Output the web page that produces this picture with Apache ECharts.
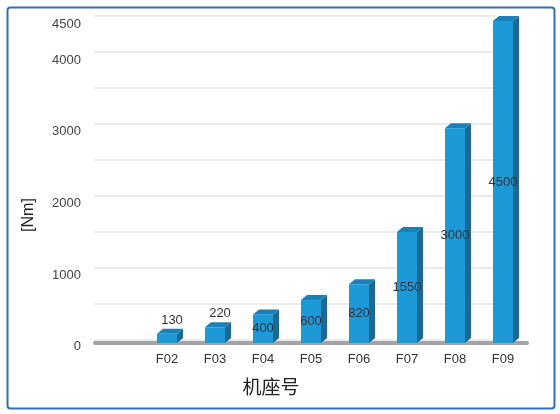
<!DOCTYPE html>
<html>
<head>
<meta charset="utf-8">
<script src="https://cdn.jsdelivr.net/npm/echarts@6/dist/echarts.min.js"></script>
<style>
  html, body { margin: 0; padding: 0; background: #fff; }
  #chart { width: 560px; height: 414px; }
</style>
</head>
<body>
<div id="chart"></div>
<script>
// 机座号 / 扭矩
const categories = ['F02', 'F03', 'F04', 'F05', 'F06', 'F07', 'F08', 'F09']
const torque = [130, 220, 400, 600, 820, 1550, 3000, 4500]
const yTicks = [0, 1000, 2000, 3000, 4000, 4500]

// 前面留一个空位
const axisCats = [''].concat(categories)
const axisVals = [null].concat(torque)

const frontColor = '#1b9ad7'
const sideColor = '#176a98'
const topColor = '#1b7fb9'
const font = '"Liberation Sans", Arial, sans-serif'

const chart = echarts.init(document.getElementById('chart'))

const render3d = (params, api) => {
  const v = api.value(1)
  if (v == null || isNaN(v)) return
  const top = api.coord([api.value(0), v])
  const base = api.coord([api.value(0), 0])
  const hw = 10, dx = 6, dy = 5
  const x = top[0], y = top[1]
  return {
    type: 'group',
    children: [
      {
        type: 'polygon',
        shape: { points: [[x + hw, y], [x + hw + dx, y - dy], [x + hw + dx, base[1] - dy], [x + hw, base[1]]] },
        style: { fill: sideColor }
      },
      {
        type: 'polygon',
        shape: { points: [[x - hw, y], [x - hw + dx, y - dy], [x + hw + dx, y - dy], [x + hw, y]] },
        style: { fill: topColor }
      }
    ]
  }
}

const option = {
  animation: false,
  graphic: [
    {
      type: 'rect',
      left: 5, top: 5,
      shape: { width: 547, height: 401, r: 3 },
      style: { fill: 'none', stroke: '#3371ba', lineWidth: 2 },
      z: 0
    }
  ],
  grid: [
    { left: 95, right: 33, top: 21, bottom: 71 },
    { left: 94, right: 65, top: 16, bottom: 74 }
  ],
  xAxis: [
    {
      type: 'category',
      gridIndex: 0,
      data: axisCats,
      name: '机座号',
      nameLocation: 'middle',
      nameGap: 34,
      nameTextStyle: {
        fontFamily: '"Noto Sans CJK SC", sans-serif',
        fontSize: 19,
        color: '#222',
        padding: [0, 80, 0, 0]
      },
      axisLine: { lineStyle: { color: '#a3a3a3', width: 4 } },
      axisTick: { show: false },
      axisLabel: { color: '#333', fontSize: 13, fontFamily: font, margin: 10 }
    },
    {
      type: 'category',
      gridIndex: 1,
      data: axisCats,
      show: false
    }
  ],
  yAxis: [
    {
      type: 'value',
      gridIndex: 0,
      min: 0,
      max: 4500,
      interval: 500,
      name: '[Nm]',
      nameLocation: 'middle',
      nameRotate: 90,
      nameGap: 58,
      nameTextStyle: {
        fontFamily: font,
        fontSize: 16,
        color: '#222',
        padding: [0, 66, 0, 0]
      },
      axisLine: { show: false },
      axisTick: { show: false },
      splitLine: { show: false },
      axisLabel: {
        color: '#444',
        fontSize: 13,
        fontFamily: font,
        margin: 14,
        verticalAlign: 'top',
        lineHeight: 7,
        formatter: v => (yTicks.includes(v) ? String(v) : '')
      }
    },
    {
      type: 'value',
      gridIndex: 1,
      min: 0,
      max: 4500,
      interval: 500,
      axisLine: { show: false },
      axisTick: { show: false },
      axisLabel: { show: false },
      splitLine: { lineStyle: { color: '#e4e4e4', width: 1.5 } }
    }
  ],
  series: [
    {
      type: 'bar',
      xAxisIndex: 0,
      yAxisIndex: 0,
      barWidth: 20,
      z: 3,
      itemStyle: { color: frontColor },
      label: {
        show: true,
        color: '#333',
        fontSize: 13,
        fontFamily: font
      },
      data: axisVals.map(v => (v == null ? null : {
        value: v,
        label: v < 300 ? { position: 'top', distance: 7, offset: [5, 0] } : { position: 'inside' }
      }))
    },
    {
      type: 'custom',
      xAxisIndex: 0,
      yAxisIndex: 0,
      z: 2,
      renderItem: render3d,
      data: axisVals.map((v, i) => [i, v])
    }
  ]
}

chart.setOption(option)
</script>
</body>
</html>
